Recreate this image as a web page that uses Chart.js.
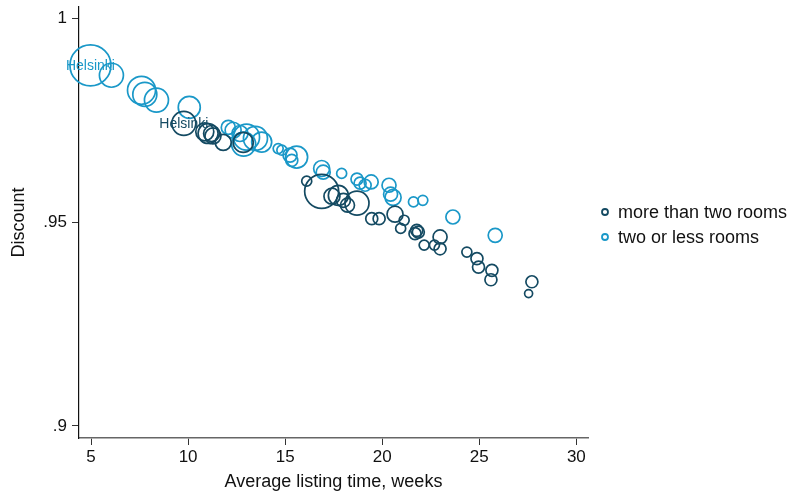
<!DOCTYPE html>
<html>
<head>
<meta charset="utf-8">
<script src="https://cdn.jsdelivr.net/npm/chart.js@4/dist/chart.umd.min.js"></script>
<style>
html,body{margin:0;padding:0;background:#fff;}
#wrap{width:793px;height:499px;position:relative;}
</style>
</head>
<body>
<div id="wrap"><canvas id="c" width="793" height="499"></canvas></div>
<script>
// ---- data ----
const seriesNames = ['more than two rooms', 'two or less rooms'];

// more than two rooms
const bigX = [9.78, 10.86, 11.03, 11.21, 11.28, 11.81, 12.84, 16.11, 16.88, 17.41, 17.74, 18.00, 18.21, 18.70, 19.46, 19.84, 20.66, 21.13, 20.95, 21.78, 21.69, 21.86, 22.98, 22.16, 22.69, 22.98, 24.36, 24.88, 24.96, 25.65, 25.60, 27.71, 27.54];
const bigY = [0.9743, 0.9722, 0.9718, 0.9718, 0.9712, 0.9696, 0.9696, 0.9601, 0.9576, 0.9564, 0.9566, 0.9554, 0.9542, 0.9547, 0.9509, 0.9509, 0.9520, 0.9505, 0.9485, 0.9480, 0.9472, 0.9476, 0.9464, 0.9444, 0.9444, 0.9435, 0.9427, 0.9411, 0.9390, 0.9382, 0.9359, 0.9354, 0.9325];
const bigW = [144, 81, 100, 64, 64, 64, 100, 25, 289, 64, 100, 49, 49, 144, 36, 36, 64, 25, 25, 36, 36, 36, 49, 25, 25, 36, 25, 36, 36, 36, 36, 36, 16];
const bigLabels = ['Helsinki'];

// two or less rooms
const smallX = [4.97, 6.05, 7.60, 7.77, 8.37, 10.06, 12.07, 12.32, 12.67, 13.01, 12.86, 13.47, 13.79, 14.64, 14.83, 15.25, 15.59, 15.34, 16.88, 16.96, 17.91, 18.70, 18.86, 19.12, 19.43, 20.35, 20.43, 20.56, 21.61, 22.09, 23.64, 25.82];
const smallY = [0.9885, 0.9861, 0.9824, 0.9814, 0.9800, 0.9782, 0.9733, 0.9726, 0.9718, 0.9709, 0.9692, 0.9706, 0.9697, 0.9681, 0.9677, 0.9665, 0.9660, 0.9652, 0.9632, 0.9623, 0.9620, 0.9606, 0.9596, 0.9591, 0.9599, 0.9591, 0.9569, 0.9561, 0.9550, 0.9554, 0.9513, 0.9468];
const smallW = [420, 144, 196, 144, 144, 121, 49, 64, 64, 169, 144, 144, 100, 25, 25, 49, 121, 36, 64, 49, 25, 36, 36, 36, 49, 49, 49, 64, 25, 25, 49, 49];
const smallLabels = ['Helsinki'];

const xTicks = [5, 10, 15, 20, 25, 30];
const yTicks = [0.9, 0.95, 1];
const yTickLabels = ['.9', '.95', '1'];
const xTitle = 'Average listing time, weeks';
const yTitle = 'Discount';

// ---- styling ----
const DARK = 'rgb(20,74,98)';
const LIGHT = 'rgb(26,152,200)';
const FONT = '"Liberation Sans", Arial, Helvetica, sans-serif';

function build(xs, ys, ws, labels) {
  return xs.map((x, i) => ({ x: x, y: ys[i], r: Math.sqrt(ws[i]), label: labels[i] || '' }));
}

const labelPlugin = {
  id: 'pointLabels',
  afterDatasetsDraw(chart) {
    const ctx = chart.ctx;
    ctx.save();
    ctx.font = '14px ' + FONT;
    ctx.textAlign = 'center';
    ctx.textBaseline = 'middle';
    chart.data.datasets.forEach((ds, di) => {
      const meta = chart.getDatasetMeta(di);
      ds.data.forEach((p, i) => {
        if (!p.label) return;
        const el = meta.data[i];
        ctx.fillStyle = ds.borderColor;
        ctx.fillText(p.label, el.x, el.y + 1);
      });
    });
    ctx.restore();
  }
};

const legendPlugin = {
  id: 'sideLegend',
  afterDraw(chart) {
    const ctx = chart.ctx;
    ctx.save();
    ctx.font = '18px ' + FONT;
    ctx.textBaseline = 'middle';
    ctx.textAlign = 'left';
    const rows = [212, 237];
    chart.data.datasets.forEach((ds, di) => {
      const y = rows[di];
      ctx.beginPath();
      ctx.arc(605, y, 3, 0, Math.PI * 2);
      ctx.lineWidth = 1.8;
      ctx.strokeStyle = ds.borderColor;
      ctx.stroke();
      ctx.fillStyle = '#111';
      ctx.fillText(ds.label, 618, y + 1);
    });
    ctx.restore();
  }
};

new Chart(document.getElementById('c'), {
  type: 'bubble',
  data: {
    datasets: [
      { label: seriesNames[0], data: build(bigX, bigY, bigW, bigLabels), borderColor: DARK, backgroundColor: 'rgba(0,0,0,0)', borderWidth: 1.7, clip: false },
      { label: seriesNames[1], data: build(smallX, smallY, smallW, smallLabels), borderColor: LIGHT, backgroundColor: 'rgba(0,0,0,0)', borderWidth: 1.7, clip: false }
    ]
  },
  options: {
    responsive: false,
    animation: false,
    events: [],
    layout: { autoPadding: false, padding: { top: 7, right: 205, left: 0, bottom: 0 } },
    plugins: { legend: { display: false }, tooltip: { enabled: false } },
    scales: {
      x: {
        type: 'linear',
        min: 4.38,
        max: 30.6,
        afterBuildTicks: s => { s.ticks = xTicks.map(v => ({ value: v })); },
        afterFit: s => { s.height = 61; s.paddingLeft = 0; s.paddingRight = 0; },
        ticks: { color: '#111', font: { family: FONT, size: 17 }, padding: 2, maxRotation: 0 },
        grid: { drawOnChartArea: false, drawTicks: true, tickLength: 7, color: '#333', tickWidth: 1 },
        border: { display: true, color: '#666', width: 1.6 },
        title: { display: true, text: xTitle, color: '#111', font: { family: FONT, size: 18 }, padding: { top: 0, bottom: 6 } }
      },
      y: {
        type: 'linear',
        min: 0.89705,
        max: 1.00285,
        afterBuildTicks: s => { s.ticks = yTicks.map(v => ({ value: v })); },
        afterFit: s => { s.width = 79; s.paddingTop = 0; s.paddingBottom = 0; },
        ticks: { color: '#111', font: { family: FONT, size: 17 }, padding: 5, callback: (v) => yTickLabels[yTicks.findIndex(t => Math.abs(t - v) < 1e-9)] },
        grid: { drawOnChartArea: false, drawTicks: true, tickLength: 7, color: '#333', tickWidth: 1 },
        border: { display: true, color: '#111', width: 1.2 },
        title: { display: true, text: yTitle, color: '#111', font: { family: FONT, size: 18 }, padding: { top: 8, bottom: 0 } }
      }
    }
  },
  plugins: [labelPlugin, legendPlugin]
});
</script>
</body>
</html>
